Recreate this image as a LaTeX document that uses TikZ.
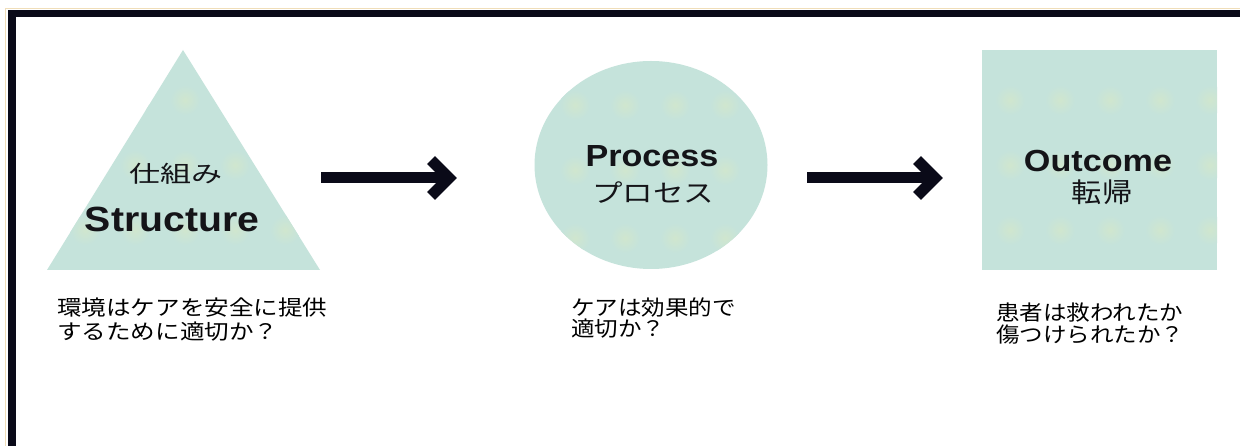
\documentclass[tikz,border=0pt]{standalone}
\usepackage{fontspec}
\usetikzlibrary{shapes.geometric,calc}
\setmainfont{Liberation Sans}
\newfontfamily\latb[FakeStretch=1.12]{Liberation Sans}
\newfontfamily\jpA[FakeStretch=1.35]{Noto Sans CJK JP}
\newfontfamily\jpB[FakeStretch=1.22]{Noto Sans CJK JP}
\newfontfamily\jpC[FakeStretch=1.12]{Noto Sans CJK JP}
\newfontfamily\jpcap[FakeStretch=1.12]{Noto Sans CJK JP}
\newfontfamily\jpcapw[FakeStretch=1.17]{Noto Sans CJK JP}
\definecolor{shapefill}{RGB}{197,227,219}
\definecolor{spotc}{RGB}{208,230,206}
\definecolor{framec}{RGB}{10,10,24}
\definecolor{beige}{RGB}{240,222,185}
\definecolor{inkc}{RGB}{20,20,24}
\begin{document}
\begin{tikzpicture}[x=1pt,y=-1pt,
  shapefillstyle/.style={fill=shapefill,draw=none},
  spot/.style={inner color=spotc,outer color=shapefill},
  title/.style={inner sep=0pt,text=inkc,font=\latb\bfseries\fontsize{#1}{#1}\selectfont},
  jptext/.style={inner sep=0pt,text=inkc},
  caption/.style={inner sep=0pt,anchor=north west,align=left,text=black},
  arrowline/.style={draw=framec,line width=11pt,line cap=butt},
  arrowhead/.style={draw=framec,line width=11pt,line cap=butt,line join=miter}
]
\useasboundingbox (0,0) rectangle (1240,446);
\fill[white] (0,0) rectangle (1240,446);
% frame
\fill[beige] (5,8) rectangle (1240,9);
\fill[beige] (5,8) rectangle (6,446);
\fill[framec] (8,10) rectangle (1240,17);
\fill[framec] (8,10) rectangle (16,446);

% shapes
\fill[shapefillstyle] (183,50) -- (320,270) -- (47,270) -- cycle;
\node[ellipse,shapefillstyle,minimum width=233pt,minimum height=208pt,inner sep=0pt] (proc) at (651,165) {};
\node[rectangle,shapefillstyle,minimum width=235pt,minimum height=220pt,inner sep=0pt] (outc) at (1099.5,160) {};

% faint spots in the fill texture
\begin{scope}
  \clip (183,50) -- (320,270) -- (47,270) -- cycle;
  \foreach \x in {85,135,185,235,285} \foreach \y in {100,165,230} {\shade[spot] (\x,\y) circle (15pt);}
\end{scope}
\begin{scope}
  \clip (proc.center) ellipse (116.5pt and 104pt);
  \foreach \x in {575,625,675,725} \foreach \y in {105,170,238} {\shade[spot] (\x,\y) circle (15pt);}
\end{scope}
\begin{scope}
  \clip (outc.south west) rectangle (outc.north east);
  \foreach \x in {1010,1060,1110,1160,1210} \foreach \y in {100,165,230} {\shade[spot] (\x,\y) circle (15pt);}
\end{scope}

% shape texts
\node[jptext,font=\jpA\fontsize{23}{23}\selectfont] (structjp) at (176,174) {仕組み};
\node[title=35,anchor=base] (structen) at (172,232) {Structure};
\node[title=30.5,anchor=base] (procen) at (652,167) {Process};
\node[jptext,font=\jpB\fontsize{25}{25}\selectfont] (procjp) at (653,193) {プロセス};
\node[title=30.5,anchor=base] (outen) at (1098,172) {Outcome};
\node[jptext,font=\jpC\fontsize{27}{27}\selectfont] (outjp) at (1102,192) {転帰};

% arrows
\coordinate (a1s) at (321,178);
\coordinate (a1e) at (457,178);
\coordinate (a2s) at (807,178);
\coordinate (a2e) at (943,178);
\draw[arrowline] (a1s) -- ($(a1e)+(-8,0)$);
\draw[arrowhead] ($(a1e)+(-26,-18)$) -- ($(a1e)+(-8,0)$) -- ($(a1e)+(-26,18)$);
\draw[arrowline] (a2s) -- ($(a2e)+(-8,0)$);
\draw[arrowhead] ($(a2e)+(-26,-18)$) -- ($(a2e)+(-8,0)$) -- ($(a2e)+(-26,18)$);

% captions
\node[caption,font=\jpcapw\fontsize{21}{23.5}\selectfont] (cap1) at (57,298) {環境はケアを安全に提供\\するために適切か？};
\node[caption,font=\jpcap\fontsize{21}{21}\selectfont] (cap2) at (571,298) {ケアは効果的で\\適切か？};
\node[caption,font=\jpcap\fontsize{21}{22}\selectfont] (cap3) at (996,303) {患者は救われたか\\傷つけられたか？};
\end{tikzpicture}
\end{document}
